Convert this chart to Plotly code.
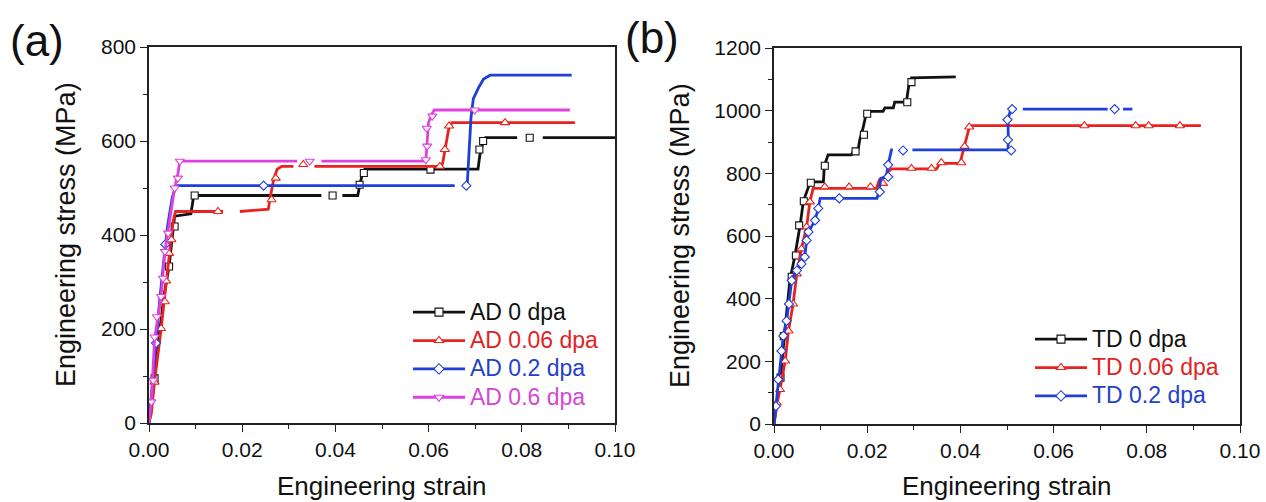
import plotly.graph_objects as go

# ---------------- Panel (a): AD specimens ----------------
ad0_strain = [0, 0.0008, 0.0020, 0.0032, 0.0043, 0.0050, 0.0055, 0.0090, 0.0093, 0.0096, 0.0370, None,
              0.0415, 0.0448, 0.0453, 0.0458, 0.0463, 0.0706, 0.0710, 0.0716, 0.0722, 0.0790, None, 0.0845, 0.1000]
ad0_stress = [0, 60, 170, 270, 333, 400, 440, 445, 470, 484, 484, None,
              484, 484, 510, 530, 540, 540, 570, 595, 607, 607, None, 607, 607]
ad0_mk_strain = [0.0012, 0.0043, 0.0055, 0.0098, 0.0394, 0.0452, 0.0461, 0.0604, 0.0709, 0.0717, 0.0817]
ad0_mk_stress = [95, 333, 418, 484, 484, 507, 532, 539, 582, 600, 607]

ad006_strain = [0, 0.0005, 0.0012, 0.0026, 0.0037, 0.0045, 0.0052, 0.0057, 0.0159, None, 0.0195, 0.0256,
                0.0262, 0.0268, 0.0275, 0.0285, 0.0310, None, 0.0355, 0.0625, 0.0630, 0.0636, 0.0643, 0.0650, 0.0914]
ad006_stress = [0, 20, 90, 200, 300, 370, 430, 450, 450, None, 450, 455,
                490, 520, 540, 546, 546, None, 546, 546, 552, 585, 625, 639, 639]
ad006_mk_strain = [0.0012, 0.0026, 0.0034, 0.0037, 0.0043, 0.0048, 0.0148, 0.0263, 0.0272, 0.0331,
                   0.0624, 0.0635, 0.0644, 0.0764]
ad006_mk_stress = [87, 201, 258, 302, 361, 390, 450, 475, 521, 550, 546, 582, 632, 639]

ad02_strain = [0, 0.0010, 0.0020, 0.0030, 0.0040, 0.0050, 0.0058, 0.0656, None, 0.0683, 0.0687, 0.0691,
               0.0696, 0.0707, 0.0718, 0.0732, 0.0907]
ad02_stress = [0, 120, 230, 330, 420, 480, 505, 505, None, 510, 580, 650, 690, 713, 732, 740, 740]
ad02_mk_strain = [0.0015, 0.0035, 0.0246, 0.0681]
ad02_mk_stress = [170, 380, 505, 505]

ad06_strain = [0, 0.0005, 0.0012, 0.0026, 0.0034, 0.0044, 0.0055, 0.0062, 0.0066, 0.0318, None, 0.0370,
               0.0594, 0.0597, 0.0600, 0.0606, 0.0612, 0.0903]
ad06_stress = [0, 45, 180, 270, 365, 430, 500, 530, 557, 557, None, 557, 557, 600, 640, 655, 666, 666]
ad06_mk_strain = [0.0005, 0.0009, 0.0012, 0.0017, 0.0026, 0.0030, 0.0034, 0.0041, 0.0055, 0.0062, 0.0066,
                  0.0345, 0.0594, 0.0597, 0.0596, 0.0608, 0.0699]
ad06_mk_stress = [45, 91, 183, 226, 269, 308, 365, 404, 500, 521, 557, 557, 560, 589, 627, 653, 666]

# ---------------- Panel (b): TD specimens ----------------
td0_strain = [0, 0.0006, 0.0014, 0.0024, 0.0034, 0.0045, 0.0056, 0.0063, 0.0074, 0.0081, 0.0106, 0.0108,
              0.0116, 0.0166, 0.0170, 0.0181, 0.0184, 0.0191, 0.0199, 0.0234, 0.0238, 0.0256, 0.0259,
              0.0284, 0.0289, 0.0295, 0.0390]
td0_stress = [0, 62, 148, 308, 458, 538, 634, 711, 757, 773, 773, 824,
              859, 859, 870, 880, 907, 944, 998, 998, 1009, 1009, 1027,
              1027, 1078, 1105, 1108]
td0_mk_strain = [0.0014, 0.0021, 0.0038, 0.0047, 0.0054, 0.0064, 0.0079, 0.0109, 0.0175, 0.0193, 0.0200,
                 0.0286, 0.0295]
td0_mk_stress = [148, 280, 470, 538, 634, 711, 770, 824, 870, 923, 990, 1027, 1091]

td006_strain = [0, 0.0006, 0.0013, 0.0024, 0.0031, 0.0041, 0.0049, 0.0059, 0.0070, 0.0077, 0.0084, 0.0220,
                0.0226, 0.0238, 0.0245, 0.0252, 0.0349, 0.0356, 0.0399, 0.0406, 0.0413, 0.0420, 0.0916]
td006_stress = [0, 62, 110, 201, 297, 383, 479, 559, 629, 709, 752, 752,
                779, 789, 805, 814, 814, 832, 832, 870, 907, 952, 952]
td006_mk_strain = [0.0006, 0.0013, 0.0024, 0.0031, 0.0041, 0.0049, 0.0059, 0.0070, 0.0077, 0.0109, 0.0161,
                   0.0207, 0.0234, 0.0295, 0.0338, 0.0359, 0.0402, 0.0409, 0.0419, 0.0666, 0.0776, 0.0804,
                   0.0871]
td006_mk_stress = [67, 110, 201, 297, 383, 479, 559, 629, 709, 757, 757, 757, 768, 816, 816, 834, 834, 886,
                   948, 952, 952, 952, 952]

td02_strain = [0, 0.0004, 0.0009, 0.0016, 0.0020, 0.0027, 0.0032, 0.0038, 0.0049, 0.0059, 0.0066, 0.0070,
               0.0074, 0.0088, 0.0095, 0.0099, 0.0221, 0.0226, 0.0229, 0.0241, 0.0245, 0.0252, 0.0255, None,
               0.0297, 0.0502, 0.0503, 0.0502, 0.0508, 0.0511, None, 0.0534, 0.0716, None, 0.0749, 0.0769]
td02_stress = [0, 57, 142, 233, 281, 329, 383, 458, 490, 511, 533, 586,
               613, 650, 688, 720, 720, 747, 784, 789, 827, 875, 875, None,
               875, 875, 910, 970, 1005, 1005, None, 1005, 1005, None, 1005, 1005]
td02_mk_strain = [0.0004, 0.0009, 0.0016, 0.0020, 0.0027, 0.0032, 0.0038, 0.0049, 0.0059, 0.0066, 0.0070,
                  0.0074, 0.0088, 0.0095, 0.0140, 0.0227, 0.0245, 0.0245, 0.0277, 0.0509, 0.0502, 0.0501,
                  0.0511, 0.0731]
td02_mk_stress = [57, 142, 233, 281, 329, 383, 458, 490, 511, 533, 586, 613, 650, 688, 720, 741, 789, 827,
                  873, 873, 907, 971, 1005, 1005]

# ---------------- Styling ----------------
FONT = "Arial, 'Liberation Sans', sans-serif"
BLACK, RED, BLUE, MAGENTA = "#111111", "#e8231f", "#1f3fd8", "#e040e0"
TXT_RED, TXT_BLUE, TXT_MAG = "#e02424", "#2342c8", "#d24ad2"
W, H = 1266, 502
LINE_W = 2.8

fig = go.Figure()


def add_series(strain, stress, mk_strain, mk_stress, color, symbol, size, label, txt_color, xa, ya, legend):
    fig.add_trace(go.Scatter(x=strain, y=stress, mode="lines", connectgaps=False,
                             line=dict(color=color, width=LINE_W), showlegend=False,
                             xaxis=xa, yaxis=ya, hoverinfo="skip"))
    fig.add_trace(go.Scatter(x=mk_strain, y=mk_stress, mode="markers",
                             marker=dict(symbol=symbol, size=size, color="white",
                                         line=dict(color=color, width=1.1)),
                             showlegend=False, xaxis=xa, yaxis=ya, hoverinfo="skip"))
    # legend entry: line with a small marker in the middle
    fig.add_trace(go.Scatter(x=[None], y=[None], mode="lines+markers",
                             line=dict(color=color, width=LINE_W),
                             marker=dict(symbol=symbol, size=8, color="white",
                                         line=dict(color=color, width=1.1)),
                             name=f"<span style='color:{txt_color};font-size:23px'>{label}</span>",
                             xaxis=xa, yaxis=ya, legend=legend))


add_series(ad0_strain, ad0_stress, ad0_mk_strain, ad0_mk_stress, BLACK, "square", 7,
           "AD 0 dpa", BLACK, "x", "y", "legend")
add_series(ad006_strain, ad006_stress, ad006_mk_strain, ad006_mk_stress, RED, "triangle-up", 8,
           "AD 0.06 dpa", TXT_RED, "x", "y", "legend")
add_series(ad02_strain, ad02_stress, ad02_mk_strain, ad02_mk_stress, BLUE, "diamond", 7,
           "AD 0.2 dpa", TXT_BLUE, "x", "y", "legend")
add_series(ad06_strain, ad06_stress, ad06_mk_strain, ad06_mk_stress, MAGENTA, "triangle-down", 8,
           "AD 0.6 dpa", TXT_MAG, "x", "y", "legend")

add_series(td0_strain, td0_stress, td0_mk_strain, td0_mk_stress, BLACK, "square", 7,
           "TD 0 dpa", BLACK, "x2", "y2", "legend2")
add_series(td006_strain, td006_stress, td006_mk_strain, td006_mk_stress, RED, "triangle-up", 8,
           "TD 0.06 dpa", TXT_RED, "x2", "y2", "legend2")
add_series(td02_strain, td02_stress, td02_mk_strain, td02_mk_stress, BLUE, "diamond", 7,
           "TD 0.2 dpa", TXT_BLUE, "x2", "y2", "legend2")


def px_x(p):
    return p / W


def px_y(p):
    return 1 - p / H


minor = dict(ticks="outside", ticklen=4, tickwidth=1.3, tickcolor="#222")
axis_common = dict(showline=True, linecolor="#222", linewidth=1.5, mirror=True, showgrid=False,
                   zeroline=False, ticks="outside", ticklen=7, tickwidth=1.3, tickcolor="#222",
                   tickfont=dict(family=FONT, size=21, color="#111"), automargin=False)

fig.update_layout(
    width=W, height=H, margin=dict(l=0, r=0, t=0, b=0),
    paper_bgcolor="white", plot_bgcolor="white",
    xaxis=dict(axis_common, domain=[px_x(149), px_x(615)], range=[0, 0.1], dtick=0.02, tickformat=".2f",
               minor=dict(minor, dtick=0.01), anchor="y"),
    yaxis=dict(axis_common, domain=[px_y(423), px_y(47)], range=[0, 800], dtick=200,
               minor=dict(minor, dtick=100), anchor="x"),
    xaxis2=dict(axis_common, domain=[px_x(774), px_x(1240)], range=[0, 0.1], dtick=0.02, tickformat=".2f",
                minor=dict(minor, dtick=0.01), anchor="y2"),
    yaxis2=dict(axis_common, domain=[px_y(424), px_y(48)], range=[0, 1200], dtick=200,
                minor=dict(minor, dtick=100), anchor="x2"),
    legend=dict(x=px_x(408), y=px_y(293), xanchor="left", yanchor="top", bgcolor="rgba(0,0,0,0)",
                font=dict(family=FONT, size=19.5), itemwidth=52, tracegroupgap=0),
    legend2=dict(x=px_x(1030), y=px_y(320), xanchor="left", yanchor="top", bgcolor="rgba(0,0,0,0)",
                 font=dict(family=FONT, size=19.5), itemwidth=52, tracegroupgap=0),
)

ann = [
    dict(text="(a)", x=px_x(37), y=px_y(40), font=dict(size=44)),
    dict(text="(b)", x=px_x(652), y=px_y(37), font=dict(size=44)),
    dict(text="Engineering strain", x=px_x(382), y=px_y(486), font=dict(size=26)),
    dict(text="Engineering strain", x=px_x(1007), y=px_y(486), font=dict(size=26)),
    dict(text="Engineering stress (MPa)", x=px_x(66), y=px_y(235), font=dict(size=27), textangle=-90),
    dict(text="Engineering stress (MPa)", x=px_x(680), y=px_y(236), font=dict(size=27), textangle=-90),
]
for a in ann:
    a["font"].update(family=FONT, color="#111")
    fig.add_annotation(xref="paper", yref="paper", xanchor="center", yanchor="middle", showarrow=False, **a)

fig.write_html("out.html")
